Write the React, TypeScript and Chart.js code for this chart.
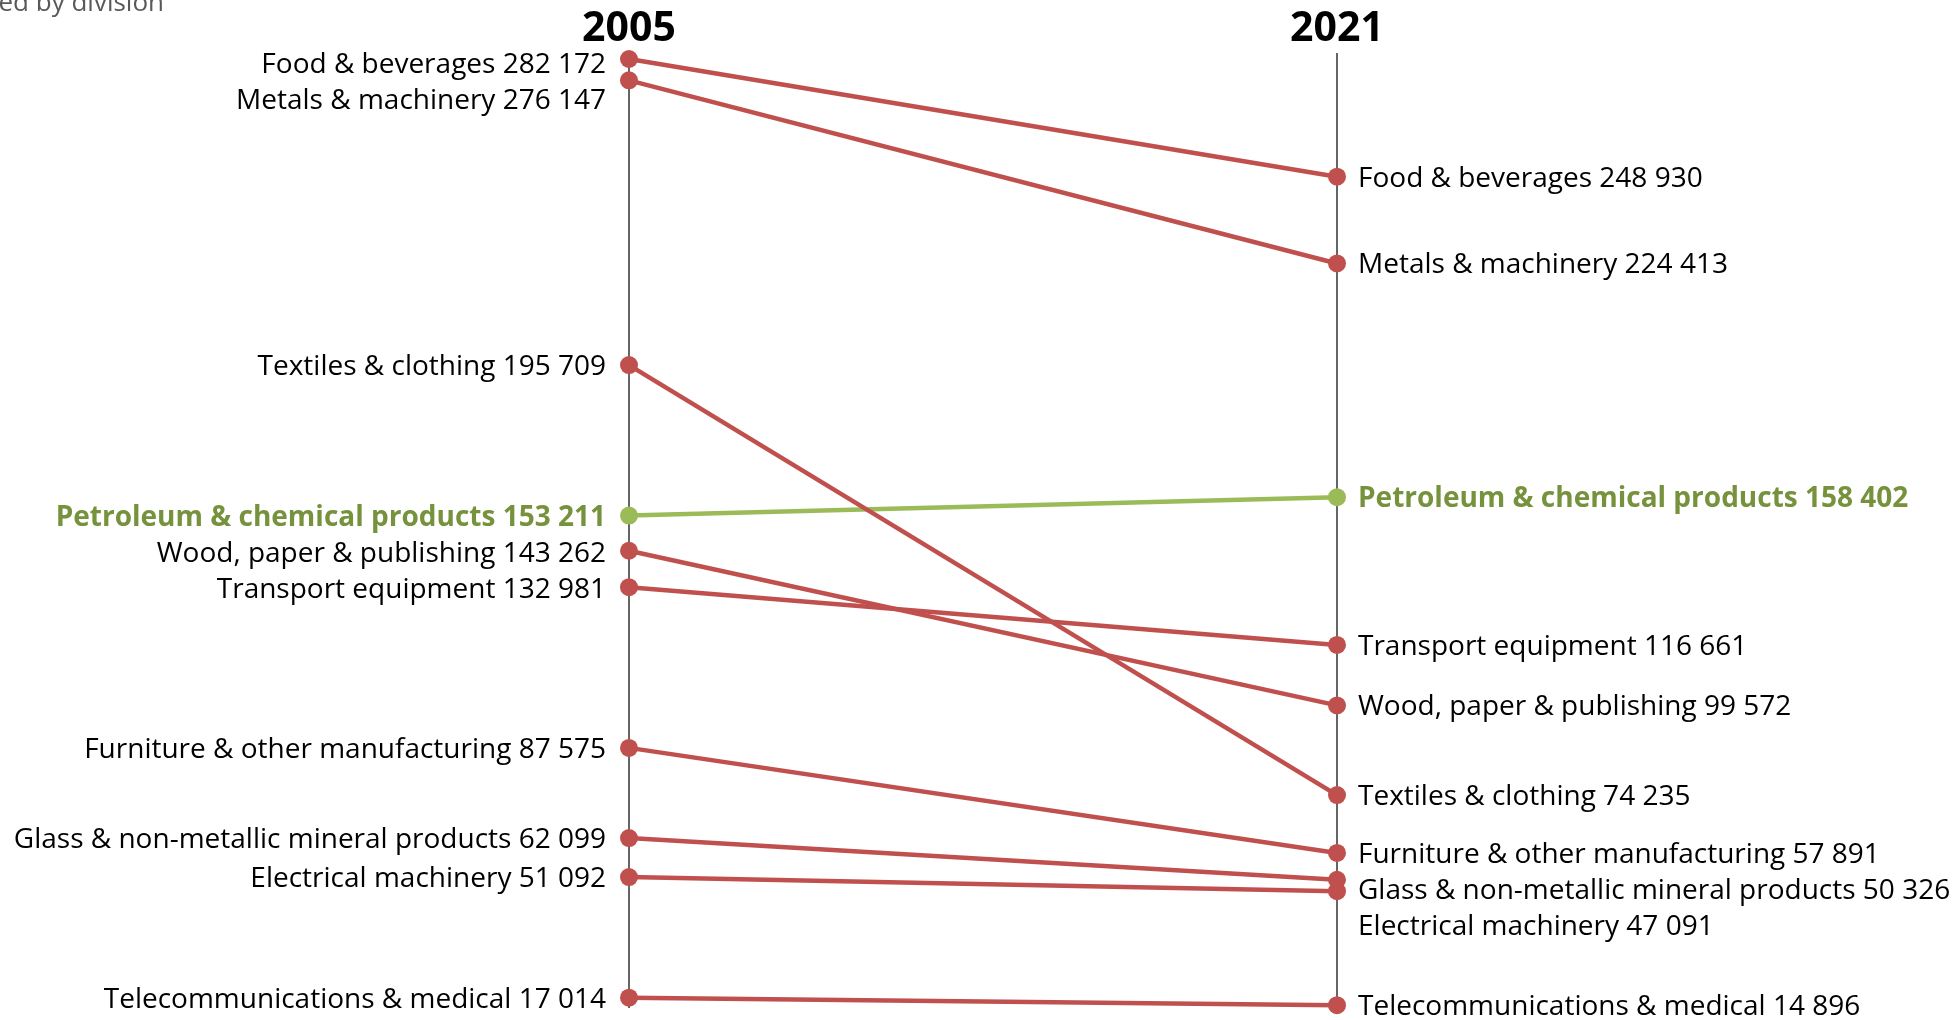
import React, { useEffect, useRef } from "react";
import { Chart, registerables } from "chart.js";

Chart.register(...registerables);

const years = ["2005", "2021"];
const categories = [
  "Food & beverages",
  "Metals & machinery",
  "Textiles & clothing",
  "Petroleum & chemical products",
  "Wood, paper & publishing",
  "Transport equipment",
  "Furniture & other manufacturing",
  "Glass & non-metallic mineral products",
  "Electrical machinery",
  "Telecommunications & medical",
];
const values2005 = [282172, 276147, 195709, 153211, 143262, 132981, 87575, 62099, 51092, 17014];
const values2021 = [248930, 224413, 74235, 158402, 99572, 116661, 57891, 50326, 47091, 14896];
const highlighted = "Petroleum & chemical products";
const subtitle = "Employment ranked by division";

const RED = "#c0504d";
const GREEN = "#9bbb59";
const GREEN_TEXT = "#76923c";
const FONT = "'Open Sans', 'Noto Sans', sans-serif";

const fmt = (v: number) => v.toString().replace(/\B(?=(\d{3})+(?!\d))/g, " ");

const slopePlugin = {
  id: "slopeDecor",
  beforeDatasetsDraw(chart: any) {
    const { ctx, chartArea, scales } = chart;
    ctx.save();
    ctx.strokeStyle = "#666666";
    ctx.lineWidth = 2;
    years.forEach((_, i) => {
      const x = Math.round(scales.x.getPixelForValue(i));
      ctx.beginPath();
      ctx.moveTo(x, chartArea.top);
      ctx.lineTo(x, chartArea.bottom);
      ctx.stroke();
    });
    ctx.restore();
  },
  afterDraw(chart: any) {
    const { ctx, scales, chartArea } = chart;
    ctx.save();
    // subtitle (clipped at top-left)
    ctx.font = `26px ${FONT}`;
    ctx.fillStyle = "#595959";
    ctx.textAlign = "right";
    ctx.textBaseline = "alphabetic";
    ctx.fillText(subtitle, 164, 11);

    // year headers
    ctx.font = `bold 41px ${FONT}`;
    ctx.fillStyle = "#000";
    ctx.textAlign = "center";
    years.forEach((y, i) => {
      const x = scales.x.getPixelForValue(i);
      ctx.fillText(y, x, 41);
    });

    // point labels with overlap avoidance
    const gap = 36;
    const cols = [values2005, values2021];
    cols.forEach((vals, i) => {
      const x = scales.x.getPixelForValue(i);
      const items = categories.map((c, k) => ({
        text: `${c} ${fmt(vals[k])}`,
        y: scales.y.getPixelForValue(vals[k]),
        hi: c === highlighted,
      }));
      items.sort((a, b) => a.y - b.y);
      let prev = chartArea.top + 10 - gap;
      items.forEach((it) => {
        const ly = Math.max(it.y, prev + gap);
        prev = ly;
        ctx.font = `${it.hi ? "bold " : ""}28px ${FONT}`;
        ctx.fillStyle = it.hi ? GREEN_TEXT : "#000";
        ctx.textAlign = i === 0 ? "right" : "left";
        ctx.textBaseline = "alphabetic";
        ctx.fillText(it.text, i === 0 ? x - 23 : x + 21, ly + 10);
      });
    });
    ctx.restore();
  },
};

export default function App() {
  const ref = useRef<HTMLCanvasElement>(null);
  useEffect(() => {
    if (!ref.current) return;
    const datasets = categories.map((c, k) => {
      const col = c === highlighted ? GREEN : RED;
      return {
        label: c,
        data: [values2005[k], values2021[k]],
        borderColor: col,
        backgroundColor: col,
        pointBackgroundColor: col,
        pointBorderWidth: 0,
        pointRadius: 9,
        pointHoverRadius: 9,
        borderWidth: 4.5,
        clip: false as any,
        tension: 0,
      };
    });
    const chart = new Chart(ref.current, {
      type: "line",
      data: { labels: years, datasets },
      options: {
        responsive: false,
        animation: false,
        devicePixelRatio: 1,
        layout: { padding: { left: 629, right: 623, top: 53, bottom: 12 } },
        scales: {
          x: { type: "category", display: false, offset: false },
          y: { display: false, min: 14100, max: 283870 },
        },
        plugins: { legend: { display: false }, tooltip: { enabled: false } },
        events: [],
      },
      plugins: [slopePlugin],
    });
    return () => chart.destroy();
  }, []);
  return (
    <div style={{ position: "fixed", left: 0, top: 0, width: 1960, height: 1020, background: "#fff" }}>
      <canvas ref={ref} width={1960} height={1020} style={{ width: 1960, height: 1020 }} />
    </div>
  );
}
